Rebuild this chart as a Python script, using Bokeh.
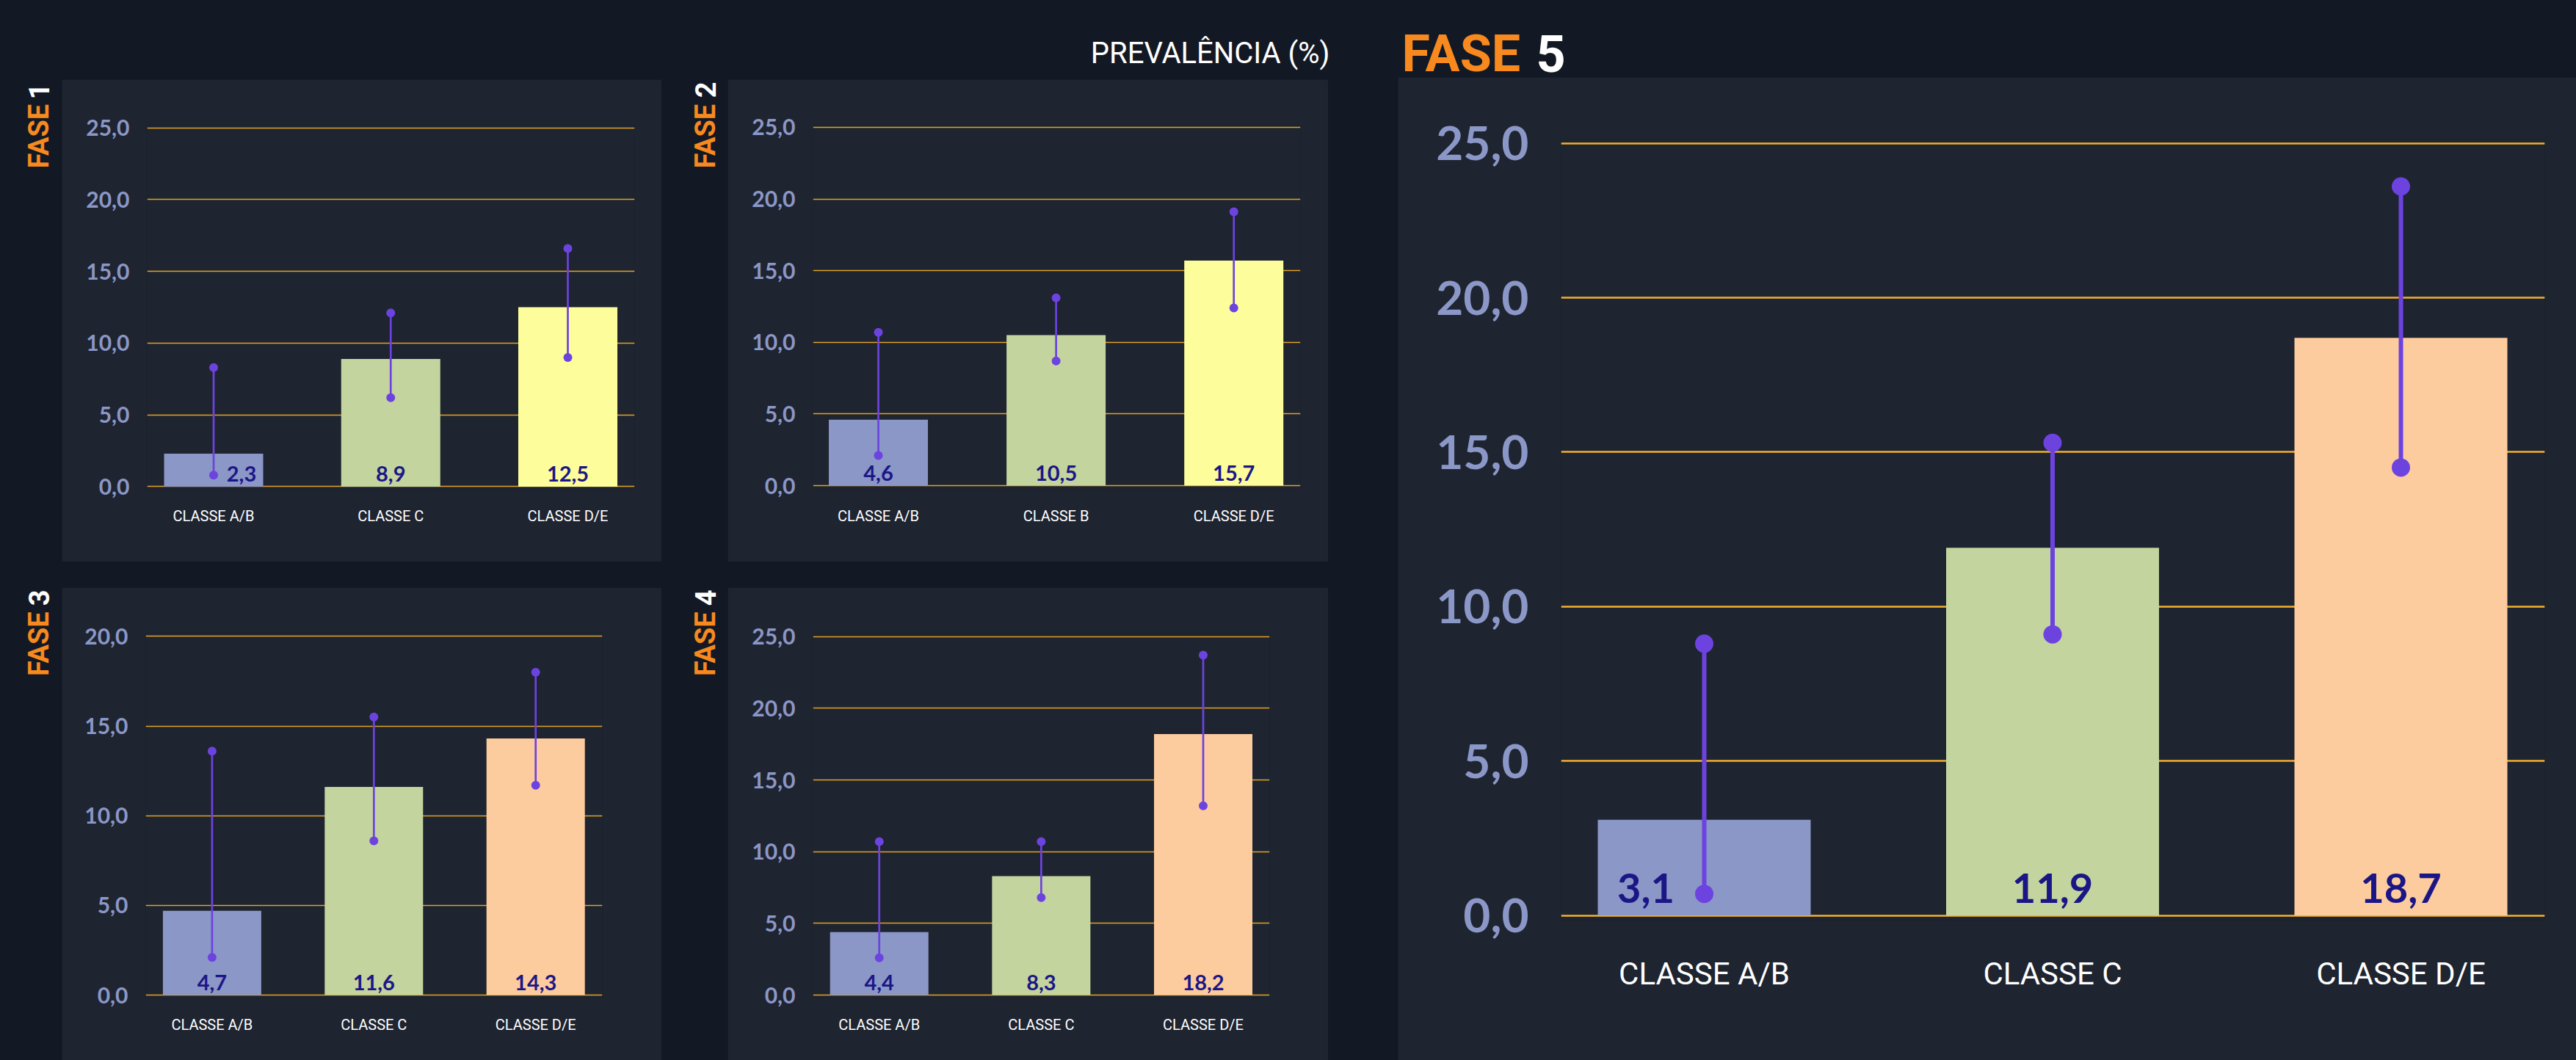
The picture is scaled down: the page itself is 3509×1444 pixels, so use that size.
import numpy as np
from bokeh.plotting import figure
from bokeh.models import Range1d, FixedTicker, Label, Spacer, GlobalInlineStyleSheet
from bokeh.layouts import row, column
from bokeh.core.properties import value
from bokeh.embed import file_html
from bokeh.resources import INLINE

# ---------------- data ----------------
categories_1 = ["CLASSE A/B", "CLASSE C", "CLASSE D/E"]
categories_2 = ["CLASSE A/B", "CLASSE B", "CLASSE D/E"]
categories_3 = ["CLASSE A/B", "CLASSE C", "CLASSE D/E"]
categories_4 = ["CLASSE A/B", "CLASSE C", "CLASSE D/E"]
categories_5 = ["CLASSE A/B", "CLASSE C", "CLASSE D/E"]

prev_1 = [2.3, 8.9, 12.5]
low_1 = [0.8, 6.2, 9.0]
high_1 = [8.3, 12.1, 16.6]

prev_2 = [4.6, 10.5, 15.7]
low_2 = [2.1, 8.7, 12.4]
high_2 = [10.7, 13.1, 19.1]

prev_3 = [4.7, 11.6, 14.3]
low_3 = [2.1, 8.6, 11.7]
high_3 = [13.6, 15.5, 18.0]

prev_4 = [4.4, 8.3, 18.2]
low_4 = [2.6, 6.8, 13.2]
high_4 = [10.7, 10.7, 23.7]

prev_5 = [3.1, 11.9, 18.7]
low_5 = [0.7, 9.1, 14.5]
high_5 = [8.8, 15.3, 23.6]

ticks_25 = [0, 5, 10, 15, 20, 25]
tick_labels_25 = ["0,0", "5,0", "10,0", "15,0", "20,0", "25,0"]
ticks_20 = [0, 5, 10, 15, 20]
tick_labels_20 = ["0,0", "5,0", "10,0", "15,0", "20,0"]

phase_names = ["FASE", "FASE", "FASE", "FASE", "FASE"]
phase_numbers = ["1", "2", "3", "4", "5"]
title_text = "PREVALÊNCIA (%)"

# ---------------- styles ----------------
DARK = "#131924"
PANEL = "#1e2430"
AMBER = "#e3a226"
AMBER5 = "#f3b02c"
PURPLE = "#6d43e0"
NAVY = "#1b1686"
TICKC = "#8b97c6"
ORANGE = "#f7891f"
WHITE = "#ffffff"
BLUE_BAR = "#8b97c6"
GREEN_BAR = "#c3d49f"
YELLOW_BAR = "#fdfd9c"
PEACH_BAR = "#fdcc9e"

NUM_FONT = "Lato"
COND_FONT = "Roboto"


def fmt(v):
    return f"{v:.1f}".replace(".", ",")


def make_panel(w, h, bl, br, bt, bb, c0, c2, yt, y0, top, bar_px,
               cats, vals, lo, hi, colors, ticks, tick_labels, label_dx, st):
    k = (y0 - yt) / top
    fy_top = bt
    fy_bot = h - bb
    y_start = -(fy_bot - y0) / k
    y_end = top + (yt - fy_top) / k
    s = (c2 - c0) / 2.0
    x_start = (bl - c0) / s
    x_end = (w - br - c0) / s
    p = figure(width=w, height=h, x_range=Range1d(x_start, x_end),
               y_range=Range1d(y_start, y_end), output_backend="svg",
               toolbar_location=None, title=None,
               min_border_left=bl, min_border_right=br,
               min_border_top=bt, min_border_bottom=bb,
               background_fill_color=PANEL, border_fill_color=PANEL,
               outline_line_color=None)
    xs = list(range(len(cats)))
    p.vbar(x=xs, top=vals, bottom=0, width=bar_px / s, fill_color=colors,
           line_color=None)
    p.segment(x0=xs, y0=lo, x1=xs, y1=hi, line_color=PURPLE,
              line_width=st["elw"])
    p.scatter(x=xs + xs, y=lo + hi, size=st["dot"], fill_color=PURPLE,
              line_color=None)
    p.text(x=[x + dx / s for x, dx in zip(xs, label_dx)],
           y=[st["vbase"] / k] * len(xs),
           text=[fmt(v) for v in vals], text_align="center",
           text_baseline="alphabetic", text_font=value(NUM_FONT),
           text_font_style="bold", text_font_size=f"{st['vfs']}px",
           text_color=NAVY)

    p.xgrid.visible = False
    p.ygrid.ticker = FixedTicker(ticks=ticks)
    p.ygrid.grid_line_color = st["grid"]
    p.ygrid.grid_line_width = st["glw"]

    p.yaxis.ticker = FixedTicker(ticks=ticks)
    p.yaxis.major_label_overrides = {t: l for t, l in zip(ticks, tick_labels)}
    p.yaxis.axis_line_color = None
    p.yaxis.major_tick_line_color = None
    p.yaxis.minor_tick_line_color = None
    p.yaxis.major_label_text_font = NUM_FONT
    p.yaxis.major_label_text_font_style = "bold"
    p.yaxis.major_label_text_font_size = f"{st['tfs']}px"
    p.yaxis.major_label_text_color = TICKC
    p.yaxis.major_label_standoff = st["ysd"]

    p.xaxis.ticker = FixedTicker(ticks=xs)
    p.xaxis.major_label_overrides = {x: c for x, c in zip(xs, cats)}
    p.xaxis.axis_line_color = None
    p.xaxis.major_tick_line_color = None
    p.xaxis.minor_tick_line_color = None
    p.xaxis.major_label_text_font = COND_FONT
    p.xaxis.major_label_text_font_size = f"{st['cfs']}px"
    p.xaxis.major_label_text_color = WHITE
    p.xaxis.major_label_standoff = st["xsd"]
    return p


def blank_fig(w, h, fill):
    # data coordinates == local pixels measured from the bottom-left corner
    p = figure(width=w, height=h, x_range=Range1d(0, w), y_range=Range1d(0, h),
               output_backend="svg", toolbar_location=None, title=None,
               x_axis_location=None, y_axis_location=None, min_border=0,
               background_fill_color=fill, border_fill_color=fill,
               outline_line_color=None)
    p.grid.visible = False
    return p


def phase_label_fig(w, h, xc, ytop, ybot, name, num):
    p = blank_fig(w, h, DARK)
    p.add_layout(Label(x=xc, y=h - ybot, text=name, angle=np.pi / 2,
                       text_align="left", text_baseline="middle",
                       text_font=COND_FONT, text_font_style="bold",
                       text_font_size="38px", text_color=ORANGE))
    p.add_layout(Label(x=xc, y=h - ytop, text=num, angle=np.pi / 2,
                       text_align="right", text_baseline="middle",
                       text_font=COND_FONT, text_font_style="bold",
                       text_font_size="38px", text_color=WHITE))
    # wrapped so that the row does not align its frame with the panels
    return column(p)


small = dict(elw=2.7, dot=12, vbase=17, vfs=29, tfs=30, ysd=18, cfs=20,
             xsd=18, grid=AMBER, glw=1.5)
big = dict(elw=6, dot=25, vbase=37, vfs=56, tfs=64, ysd=38, cfs=42,
           xsd=42, grid=AMBER5, glw=2.5)

cols_y = [BLUE_BAR, GREEN_BAR, YELLOW_BAR]
cols_p = [BLUE_BAR, GREEN_BAR, PEACH_BAR]

R1T, R1B = 62, 99
R2T, R2B = 62, 85

p1 = make_panel(817, 657, 116, 37, R1T, R1B, 206.5, 689.0, 65.7, 554.4, 25, 135,
                categories_1, prev_1, low_1, high_1, cols_y, ticks_25,
                tick_labels_25, [38, 0, 0], small)
p2 = make_panel(818, 657, 116, 38, R1T, R1B, 205.0, 689.2, 64.9, 553.1, 25, 135,
                categories_2, prev_2, low_2, high_2, cols_y, ticks_25,
                tick_labels_25, [0, 0, 0], small)
p3 = make_panel(817, 644, 114, 81, R2T, R2B, 204.4, 645.2, 66.3, 555.1, 20, 134,
                categories_3, prev_3, low_3, high_3, cols_p, ticks_20,
                tick_labels_20, [0, 0, 0], small)
p4 = make_panel(818, 644, 116, 80, R2T, R2B, 206.2, 647.5, 66.7, 555.1, 25, 134,
                categories_4, prev_4, low_4, high_4, cols_p, ticks_25,
                tick_labels_25, [0, 0, 0], small)
# p5 occupies y 105..1444 of the page
p5 = make_panel(1605, 1339, 222, 43, 84, 191, 417.0, 1366.0, 89.6, 1141.6, 25,
                290, categories_5, prev_5, low_5, high_5, cols_p, ticks_25,
                tick_labels_25, [-79.5, 0, 0], big)

lab1 = phase_label_fig(84, 657, 52, 5, 121, phase_names[0], phase_numbers[0])
lab2 = phase_label_fig(90, 657, 59, 3, 121, phase_names[1], phase_numbers[1])
lab3 = phase_label_fig(84, 644, 52, 3, 120.5, phase_names[2], phase_numbers[2])
lab4 = phase_label_fig(90, 644, 59, 3, 120.5, phase_names[3], phase_numbers[3])

# header: two blank figures side by side (height 105)
TOP_H = 105
header_left = blank_fig(1904, TOP_H, DARK)
header_left.add_layout(Label(x=1811, y=TOP_H - 71.7, text=title_text,
                             text_align="right", text_baseline="alphabetic",
                             text_font=COND_FONT, text_font_size="40px",
                             text_color=WHITE))
header_right = blank_fig(1605, TOP_H, DARK)
header_right.add_layout(Label(x=5, y=TOP_H - 72, text=phase_names[4],
                              text_align="left", text_baseline="alphabetic",
                              text_font=COND_FONT, text_font_style="bold",
                              text_font_size="70px", text_color=ORANGE))
header_right.add_layout(Label(x=188, y=TOP_H - 72, text=phase_numbers[4],
                              text_align="left", text_baseline="alphabetic",
                              text_font=COND_FONT, text_font_style="bold",
                              text_font_size="70px", text_color=WHITE))
header = row(header_left, header_right)

row1 = row(lab1, p1, lab2, p2, Spacer(width=95, height=657))
row2 = row(lab3, p3, lab4, p4, Spacer(width=95, height=644))
left = column(Spacer(width=1904, height=3), row1,
              Spacer(width=1904, height=35), row2)
body = row(left, p5)
root = column(header, body)
root.styles = {"background-color": DARK}
root.stylesheets = [GlobalInlineStyleSheet(
    css="html,body{margin:0;padding:0;background:#131924;overflow:hidden}")]

open("out.html", "w").write(file_html(root, INLINE))
